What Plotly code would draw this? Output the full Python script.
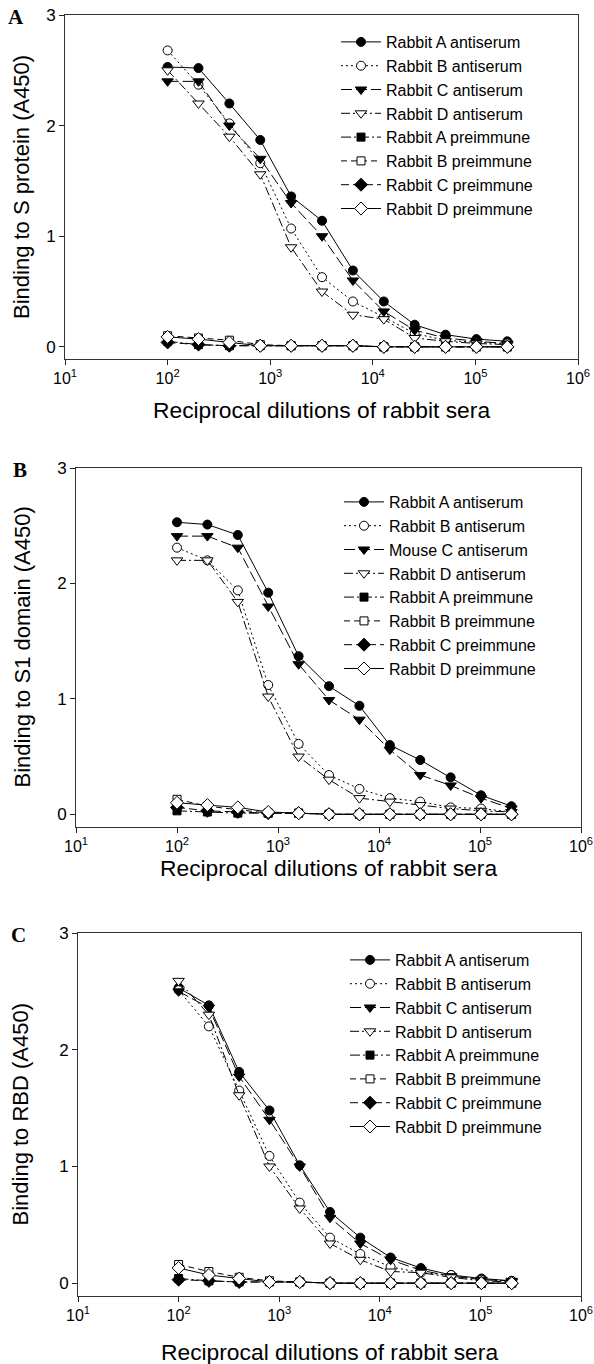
import plotly.graph_objects as go

W, H = 594, 1364

dilutions = [100, 200, 400, 800, 1600, 3200, 6400, 12800, 25600, 51200, 102400, 204800]

# Panel A: Binding to S protein
a_rabA = [2.53, 2.52, 2.20, 1.87, 1.36, 1.14, 0.69, 0.41, 0.20, 0.11, 0.07, 0.05]
a_rabB = [2.68, 2.37, 2.02, 1.66, 1.07, 0.63, 0.41, 0.27, 0.12, 0.06, 0.04, 0.03]
a_rabC = [2.40, 2.40, 2.00, 1.70, 1.30, 1.00, 0.60, 0.32, 0.15, 0.08, 0.05, 0.03]
a_rabD = [2.50, 2.20, 1.90, 1.56, 0.90, 0.50, 0.29, 0.25, 0.08, 0.05, 0.03, 0.02]
a_preA = [0.05, 0.02, 0.01, 0.01, 0.01, 0.01, 0.01, 0.00, 0.00, 0.00, 0.00, 0.00]
a_preB = [0.10, 0.08, 0.06, 0.02, 0.01, 0.01, 0.01, 0.00, 0.00, 0.00, 0.00, 0.00]
a_preC = [0.04, 0.02, 0.01, 0.01, 0.01, 0.01, 0.01, 0.00, 0.00, 0.00, 0.00, 0.00]
a_preD = [0.09, 0.07, 0.04, 0.01, 0.01, 0.01, 0.01, 0.00, 0.00, 0.00, 0.00, 0.00]

# Panel B: Binding to S1 domain
b_rabA = [2.53, 2.51, 2.42, 1.92, 1.37, 1.11, 0.94, 0.60, 0.47, 0.32, 0.165, 0.07]
b_rabB = [2.31, 2.20, 1.94, 1.12, 0.61, 0.34, 0.22, 0.14, 0.11, 0.06, 0.05, 0.02]
b_rabC = [2.41, 2.41, 2.31, 1.80, 1.30, 0.99, 0.82, 0.56, 0.34, 0.25, 0.14, 0.05]
b_rabD = [2.20, 2.20, 1.84, 1.02, 0.50, 0.30, 0.14, 0.11, 0.08, 0.05, 0.03, 0.02]
b_preA = [0.03, 0.02, 0.01, 0.01, 0.01, 0.00, 0.00, 0.00, 0.00, 0.00, 0.00, 0.00]
b_preB = [0.13, 0.07, 0.04, 0.01, 0.01, 0.00, 0.00, 0.00, 0.00, 0.00, 0.00, 0.00]
b_preC = [0.06, 0.03, 0.02, 0.01, 0.01, 0.00, 0.00, 0.00, 0.00, 0.00, 0.00, 0.00]
b_preD = [0.10, 0.08, 0.06, 0.02, 0.01, 0.00, 0.00, 0.00, 0.00, 0.00, 0.00, 0.00]

# Panel C: Binding to RBD
c_rabA = [2.53, 2.38, 1.81, 1.48, 1.01, 0.61, 0.39, 0.22, 0.13, 0.07, 0.04, 0.02]
c_rabB = [2.51, 2.20, 1.65, 1.09, 0.69, 0.39, 0.25, 0.14, 0.09, 0.07, 0.03, 0.02]
c_rabC = [2.50, 2.36, 1.77, 1.40, 1.00, 0.56, 0.34, 0.20, 0.11, 0.06, 0.03, 0.02]
c_rabD = [2.59, 2.30, 1.61, 1.00, 0.64, 0.34, 0.20, 0.10, 0.09, 0.05, 0.02, 0.01]
c_preA = [0.04, 0.02, 0.01, 0.01, 0.01, 0.00, 0.00, 0.00, 0.00, 0.00, 0.00, 0.00]
c_preB = [0.16, 0.10, 0.05, 0.02, 0.01, 0.00, 0.00, 0.00, 0.00, 0.00, 0.00, 0.00]
c_preC = [0.03, 0.02, 0.01, 0.01, 0.01, 0.00, 0.00, 0.00, 0.00, 0.00, 0.00, 0.00]
c_preD = [0.13, 0.07, 0.04, 0.01, 0.01, 0.00, 0.00, 0.00, 0.00, 0.00, 0.00, 0.00]

names_a = ["Rabbit A antiserum", "Rabbit B antiserum", "Rabbit C antiserum", "Rabbit D antiserum",
           "Rabbit A preimmune", "Rabbit B preimmune", "Rabbit C preimmune", "Rabbit D preimmune"]
names_b = ["Rabbit A antiserum", "Rabbit B antiserum", "Mouse C antiserum", "Rabbit D antiserum",
           "Rabbit A preimmune", "Rabbit B preimmune", "Rabbit C preimmune", "Rabbit D preimmune"]
names_c = names_a

y_titles = ["Binding to S protein (A450)", "Binding to S1 domain (A450)", "Binding to RBD (A450)"]
x_title = "Reciprocal dilutions of rabbit sera"
panel_labels = ["A", "B", "C"]
x_tickvals = [10, 100, 1000, 10000, 100000, 1000000]
x_ticktext = ["10<sup>1</sup>", "10<sup>2</sup>", "10<sup>3</sup>", "10<sup>4</sup>", "10<sup>5</sup>", "10<sup>6</sup>"]

# styles: symbol, fill, dash, size
styles = [
    ("circle", "black", "solid", 9),
    ("circle", "white", "2px,3px", 9),
    ("triangle-down", "black", "11px,4px", 10),
    ("triangle-down", "white", "9px,3px,2px,3px", 10),
    ("square", "black", "10px,3px,2px,3px", 8),
    ("square", "white", "6px,4px", 8),
    ("diamond", "black", "8px,4px", 10),
    ("diamond", "white", "solid", 10),
]

panels = [
    dict(data=[a_rabA, a_rabB, a_rabC, a_rabD, a_preA, a_preB, a_preC, a_preD], names=names_a,
         xpx=(65, 578), ypx=(15, 359), leg=(336, 25), ytx=22, xty=410, lab=(16, 17)),
    dict(data=[b_rabA, b_rabB, b_rabC, b_rabD, b_preA, b_preB, b_preC, b_preD], names=names_b,
         xpx=(76, 581), ypx=(468, 827), leg=(339, 485), ytx=22, xty=868, lab=(20, 470)),
    dict(data=[c_rabA, c_rabB, c_rabC, c_rabD, c_preA, c_preB, c_preC, c_preD], names=names_c,
         xpx=(78, 581), ypx=(933, 1296), leg=(345, 943), ytx=20, xty=1352, lab=(18, 935)),
]

fig = go.Figure()
FONT = "Liberation Sans, Arial, sans-serif"
annotations = []

for i, p in enumerate(panels):
    k = "" if i == 0 else str(i + 1)
    legname = "legend" + k
    for j, (vals, nm) in enumerate(zip(p["data"], p["names"])):
        sym, fill, dash, sz = styles[j]
        fig.add_trace(go.Scatter(
            x=dilutions, y=vals, name=nm, mode="lines+markers",
            xaxis="x" + k, yaxis="y" + k, legend=legname,
            line=dict(color="black", width=1, dash=dash),
            marker=dict(symbol=sym, size=sz, color=fill, line=dict(color="black", width=1)),
        ))
    x0, x1 = p["xpx"]
    yt, yb = p["ypx"]
    xd = [x0 / W, x1 / W]
    yd = [1 - yb / H, 1 - yt / H]
    fig.layout["xaxis" + k] = dict(
        type="log", range=[1, 6], domain=xd, anchor="y" + k, automargin=False,
        tickvals=x_tickvals, ticktext=x_ticktext, ticks="outside", ticklen=5,
        ticklabeloverflow="allow",
        tickcolor="#222", linecolor="#333", linewidth=1, mirror=True, showline=True,
        showgrid=False, zeroline=False, tickfont=dict(family=FONT, size=16, color="black"),
    )
    fig.layout["yaxis" + k] = dict(
        range=[-0.11, 3], domain=yd, anchor="x" + k, automargin=False,
        tickvals=[0, 1, 2, 3], ticks="outside", ticklen=5,
        tickcolor="#222", linecolor="#333", linewidth=1, mirror=True, showline=True,
        showgrid=False, zeroline=False, tickfont=dict(family=FONT, size=17, color="black"),
    )
    lx, ly = p["leg"]
    fig.layout[legname] = dict(
        x=lx / W, y=1 - ly / H, xanchor="left", yanchor="top",
        bgcolor="rgba(0,0,0,0)", borderwidth=0, itemwidth=40,
        font=dict(family=FONT, size=16, color="black"), tracegroupgap=0,
    )
    # axis titles and panel label
    annotations.append(dict(text=y_titles[i], xref="paper", yref="paper", x=p["ytx"] / W,
                            y=(yd[0] + yd[1]) / 2, textangle=-90, showarrow=False,
                            font=dict(family=FONT, size=22, color="black"),
                            xanchor="center", yanchor="middle"))
    annotations.append(dict(text=x_title, xref="paper", yref="paper",
                            x=(xd[0] + xd[1]) / 2, y=1 - p["xty"] / H, showarrow=False,
                            font=dict(family=FONT, size=22.8, color="black"),
                            xanchor="center", yanchor="middle"))
    lxp, lyp = p["lab"]
    annotations.append(dict(text="<b>" + panel_labels[i] + "</b>", xref="paper", yref="paper",
                            x=lxp / W, y=1 - lyp / H, showarrow=False,
                            font=dict(family="Liberation Serif, Times New Roman, serif", size=21, color="black"),
                            xanchor="center", yanchor="middle"))

fig.update_layout(
    template="none",
    width=W, height=H, margin=dict(l=0, r=0, t=0, b=0, pad=0),
    paper_bgcolor="white", plot_bgcolor="white",
    showlegend=True, annotations=annotations,
)

fig.write_html("out.html", config={"displayModeBar": False},
               post_script="document.body.style.margin='0px';document.body.style.overflow='hidden';")
